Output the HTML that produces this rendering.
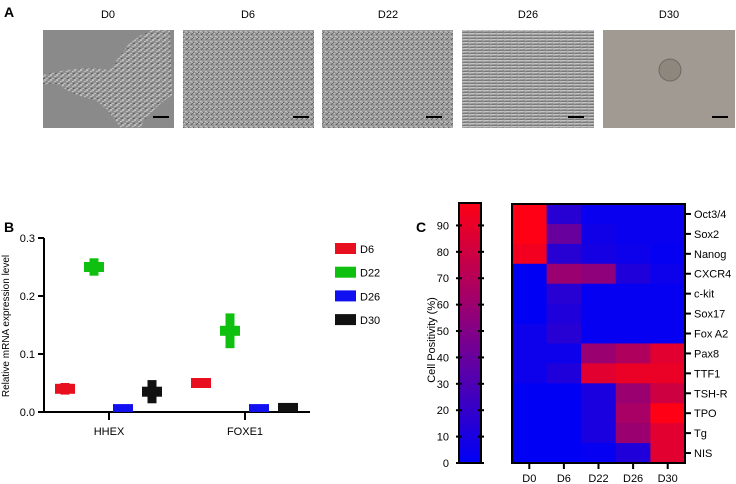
<!DOCTYPE html>
<html><head><meta charset="utf-8">
<style>
body{margin:0;background:#fff;width:736px;height:484px;overflow:hidden;font-family:"Liberation Sans",sans-serif;}
svg{display:block}
</style></head><body>
<svg id="fig" width="736" height="484" xmlns="http://www.w3.org/2000/svg" font-family="Liberation Sans, sans-serif">
<defs>
<pattern id="tex1" width="6" height="5" patternUnits="userSpaceOnUse"><rect width="6" height="5" fill="#8e8e8e"/><path d="M0 2 L4 0 M2 5 L6 3" stroke="#cfcfcf" stroke-width="0.8"/><path d="M1 4 L3 3" stroke="#555" stroke-width="0.8"/></pattern>
<pattern id="tex2" width="5" height="5" patternUnits="userSpaceOnUse"><rect width="5" height="5" fill="#999"/><path d="M0 1 L5 4" stroke="#ddd" stroke-width="0.7"/><path d="M1 5 L4 2" stroke="#555" stroke-width="0.7"/></pattern>
<pattern id="tex3" width="7" height="3" patternUnits="userSpaceOnUse"><rect width="7" height="3" fill="#9c9c9c"/><path d="M0 1 L7 0" stroke="#d8d8d8" stroke-width="0.7"/><path d="M0 3 L7 2" stroke="#5a5a5a" stroke-width="0.6"/></pattern>
</defs>
<text x="4" y="17" font-size="14" font-weight="bold">A</text>
<g>
<text x="108" y="18" font-size="11" text-anchor="middle">D0</text>
<rect x="43" y="30" width="131" height="98" fill="#8a8a8a"/>
<path d="M43 75 Q80 65 110 70 Q120 55 128 45 Q140 35 150 30 L170 30 L172 95 Q150 110 140 128 L120 128 Q110 110 95 100 Q70 95 60 85 Q50 82 43 85Z" fill="url(#tex1)"/>
<rect x="153" y="116" width="16" height="2" fill="#000"/>
<text x="248" y="18" font-size="11" text-anchor="middle">D6</text>
<rect x="183" y="30" width="131" height="98" fill="url(#tex2)"/>
<rect x="293" y="116" width="16" height="2" fill="#000"/>
<text x="388" y="18" font-size="11" text-anchor="middle">D22</text>
<rect x="322" y="30" width="131" height="98" fill="url(#tex2)"/>
<rect x="426" y="116" width="16" height="2" fill="#000"/>
<text x="528" y="18" font-size="11" text-anchor="middle">D26</text>
<rect x="462" y="30" width="132" height="98" fill="url(#tex3)"/>
<rect x="568" y="116" width="16" height="2" fill="#000"/>
<text x="669" y="18" font-size="11" text-anchor="middle">D30</text>
<rect x="603" y="30" width="132" height="98" fill="#a09a92"/>
<circle cx="670" cy="70" r="11" fill="#8d877e" stroke="#6f6a62" stroke-width="1"/>
<rect x="712" y="116" width="16" height="2" fill="#000"/>
</g>
<text x="4" y="232" font-size="14" font-weight="bold">B</text>
<text x="416" y="232" font-size="14" font-weight="bold">C</text>
<g id="chartB"></g>
<g id="chartC"></g>
</svg>
<script>
const genes=["HHEX","FOXE1"];
const seriesNames=["D6","D22","D26","D30"];
const seriesColors=["#e8101e","#10c010","#1010f0","#111111"];
const meansHHEX=[0.04,0.25,0.005,0.035];
const errHHEX=[0.01,0.015,0,0.02];
const meansFOXE1=[0.05,0.14,0.005,0.007];
const errFOXE1=[0.003,0.03,0,0];
const yTicks=["0.0","0.1","0.2","0.3"];

const hmRows=["Oct3/4","Sox2","Nanog","CXCR4","c-kit","Sox17","Fox A2","Pax8","TTF1","TSH-R","TPO","Tg","NIS"];
const hmCols=["D0","D6","D22","D26","D30"];
const hmValues=[
[100,15,3,3,3],
[100,40,6,3,3],
[95,15,8,5,2],
[0,60,55,12,5],
[0,15,2,2,2],
[0,12,2,2,2],
[5,15,2,2,2],
[5,5,60,68,88],
[5,12,88,92,92],
[0,0,10,60,80],
[0,0,10,65,100],
[0,0,10,60,88],
[0,0,2,12,88]];
const cbTicks=[0,10,20,30,40,50,60,70,80,90];

const NS="http://www.w3.org/2000/svg";
function mk(tag,attrs,parent,txt){const e=document.createElementNS(NS,tag);for(const k in attrs)e.setAttribute(k,attrs[k]);if(txt!==undefined)e.textContent=txt;parent.appendChild(e);return e;}

// Chart B
const gB=document.getElementById('chartB');
const y0=412,yPer=580;
const yB=v=>y0-v*yPer;
const groupX=[109,245];
const offs=[-44,-15,14,43];
mk('line',{x1:44,y1:yB(0.3),x2:44,y2:y0+0.5,stroke:'#000','stroke-width':2},gB);
mk('line',{x1:40,y1:y0,x2:310,y2:y0,stroke:'#000','stroke-width':2},gB);
yTicks.forEach(t=>{const v=parseFloat(t);
 const l=mk('line',{x1:38,y1:yB(v),x2:44,y2:yB(v),stroke:'#000','stroke-width':2},gB);
 
 const tx=mk('text',{x:35,y:yB(v)+4,'font-size':11,'text-anchor':'end'},gB,t);
 });
const yt=mk('text',{x:0,y:0,'font-size':10,'text-anchor':'middle',transform:'translate(9,326) rotate(-90)'},gB,'Relative mRNA expression level');

genes.forEach((g,gi)=>{
 const tk=mk('line',{x1:groupX[gi],y1:y0,x2:groupX[gi],y2:y0+8,stroke:'#000','stroke-width':2},gB);
 
 const tx=mk('text',{x:groupX[gi],y:435,'font-size':11,'text-anchor':'middle'},gB,g);
 
 const means=gi===0?meansHHEX:meansFOXE1, errs=gi===0?errHHEX:errFOXE1;
 means.forEach((m,si)=>{
  const cx=groupX[gi]+offs[si];
  const eb=mk('rect',{x:cx-4.5,y:yB(m+errs[si]),width:9,height:Math.max(0,yB(m-errs[si])-yB(m+errs[si])),fill:seriesColors[si]},gB);
  
  
  const top=Math.min(yB(m)-5,y0-6);
  const r=mk('rect',{x:cx-10,y:top,width:20,height:Math.min(10,y0-top),fill:seriesColors[si]},gB);
  
  
 });
});
seriesNames.forEach((s,i)=>{
 const y=249+i*23.7;
 const r=mk('rect',{x:335,y:y-6,width:21,height:11,fill:seriesColors[i]},gB);
 
 const t=mk('text',{x:360,y:y+4,'font-size':11},gB,s);
 
});

// Chart C
const gC=document.getElementById('chartC');
function col(v){const t=v/100;
 let r,g,b;
 if(t<0.5){const u=t/0.5;r=0+u*130;g=0;b=245-u*110;}else{const u=(t-0.5)/0.5;r=130+u*125;g=0+u*0;b=135-u*115;}
 return `rgb(${Math.round(r)},${Math.round(g)},${Math.round(b)})`;}
const hx0=512,hx1=685,hy0=204,hy1=463;
const cw=(hx1-hx0)/hmCols.length,rh=(hy1-hy0)/hmRows.length;
hmValues.forEach((row,ri)=>row.forEach((v,ci)=>{
 const c=mk('rect',{x:hx0+ci*cw,y:hy0+ri*rh,width:cw+0.5,height:rh+0.5,fill:col(v)},gC);
 
 
}));
const hb=mk('rect',{x:hx0,y:hy0,width:hx1-hx0,height:hy1-hy0,fill:'none',stroke:'#000','stroke-width':2},gC);

hmRows.forEach((r,ri)=>{const y=hy0+(ri+0.5)*rh;
 const l=mk('line',{x1:hx1,y1:y,x2:hx1+6,y2:y,stroke:'#000','stroke-width':2},gC);
 
 const t=mk('text',{x:hx1+9,y:y+4,'font-size':11},gC,r);
 });
hmCols.forEach((c,ci)=>{const x=hx0+(ci+0.5)*cw;
 const l=mk('line',{x1:x,y1:hy1,x2:x,y2:hy1+6,stroke:'#000','stroke-width':2},gC);
 
 const t=mk('text',{x:x,y:482,'font-size':11,'text-anchor':'middle'},gC,c);
 });
// colorbar
const cbx=459,cbw=22,cbTop=203,cbBot=463,cbMax=98.5;
const yC=v=>cbBot-(v/cbMax)*(cbBot-cbTop);
for(let i=0;i<65;i++){const v0=i*cbMax/65,v1=(i+1)*cbMax/65;
 const s=mk('rect',{x:cbx,y:yC(v1),width:cbw,height:yC(v0)-yC(v1)+0.5,fill:col(v0*100/cbMax)},gC);
 }
const cbb=mk('rect',{x:cbx,y:cbTop,width:cbw,height:cbBot-cbTop,fill:'none',stroke:'#000','stroke-width':2},gC);

cbTicks.forEach(v=>{const y=yC(v);
 const a=mk('line',{x1:cbx-3,y1:y,x2:cbx+3,y2:y,stroke:'#000','stroke-width':2},gC);
 
 const b=mk('line',{x1:cbx+cbw-3,y1:y,x2:cbx+cbw+3,y2:y,stroke:'#000','stroke-width':2},gC);
 
 const t=mk('text',{x:449,y:y+4,'font-size':11,'text-anchor':'end'},gC,String(v));
 });
const ct=mk('text',{x:0,y:0,'font-size':11,'text-anchor':'middle',transform:'translate(435,340) rotate(-90)'},gC,'Cell Positivity (%)');

</script>
</body></html>
